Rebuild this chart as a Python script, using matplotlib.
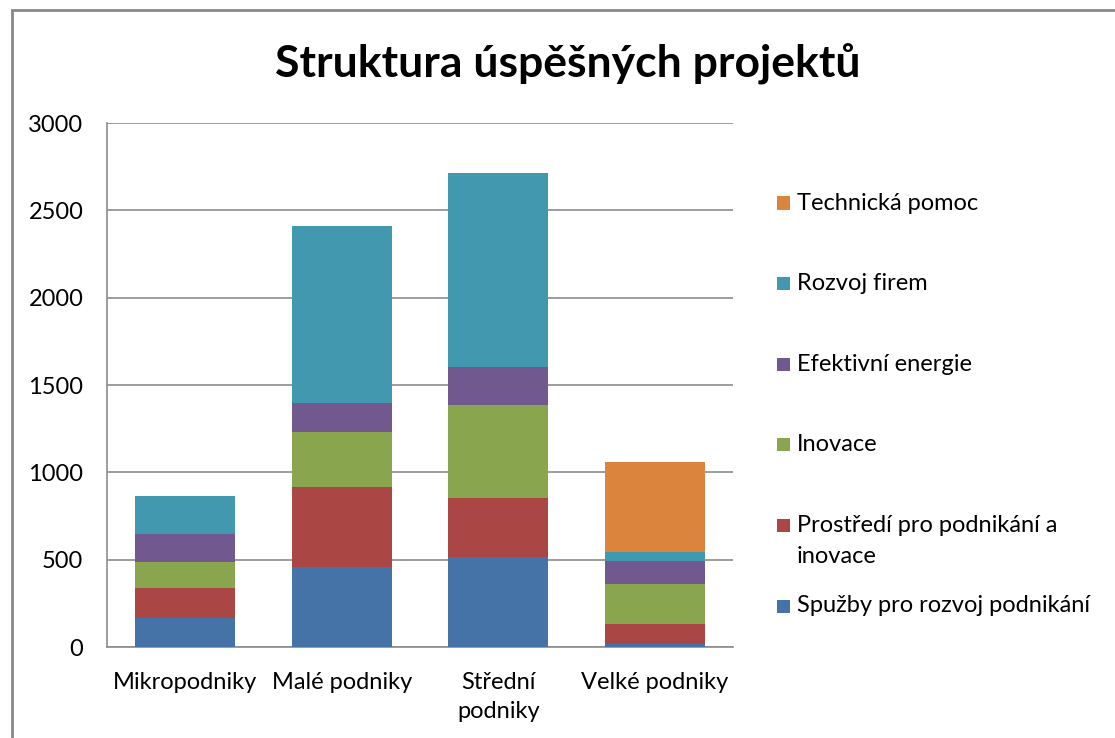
import matplotlib
matplotlib.use("Agg")
import matplotlib.pyplot as plt
from matplotlib.patches import Rectangle
import numpy as np

plt.rcParams['font.family'] = ['Lato', 'DejaVu Sans']

categories = ["Mikropodniky", "Malé podniky", "Střední\npodniky", "Velké podniky"]
series_names = ["Spužby pro rozvoj podnikání", "Prostředí pro podnikání a\ninovace",
                "Inovace", "Efektivní energie", "Rozvoj firem", "Technická pomoc"]
sluzby = [164, 458, 515, 15]
prostredi = [176, 456, 338, 118]
inovace = [147, 315, 530, 229]
energie = [162, 168, 220, 132]
rozvoj = [214, 1015, 1108, 50]
pomoc = [0, 0, 0, 517]
colors = ["#4572A7", "#AA4643", "#89A54E", "#71588F", "#4198AF", "#DB843D"]
yticks = [0, 500, 1000, 1500, 2000, 2500, 3000]

W, H = 1115, 738
FS = 17
fig = plt.figure(figsize=(W / 100, H / 100), dpi=100)
ax = fig.add_axes([107/W, 1-647/H, 626/W, 524/H])

x = np.arange(len(categories))
bottom = np.zeros(len(categories))
for vals, c in zip([sluzby, prostredi, inovace, energie, rozvoj, pomoc], colors):
    ax.bar(x, vals, bottom=bottom, width=0.64, color=c, edgecolor='none', zorder=3)
    bottom += np.array(vals)

ax.set_xlim(-0.5, len(categories) - 0.5)
ax.set_ylim(0, 3000)
ax.set_yticks(yticks)
ax.set_yticklabels([str(t) for t in yticks], fontsize=FS)
ax.set_xticks(x)
ax.set_xticklabels(categories, fontsize=FS, linespacing=1.45)
ax.tick_params(axis='x', length=0, pad=18)
ax.tick_params(axis='y', length=0, pad=17)
ax.grid(axis='y', color='#8c8c8c', linewidth=1.2, zorder=0)
for s in ['top', 'right']:
    ax.spines[s].set_visible(False)
for s in ['left', 'bottom']:
    ax.spines[s].set_color('#8c8c8c')
    ax.spines[s].set_linewidth(1.2)

# legend (reversed order, top = last series)
leg_top = 203
leg_step = 80.6
line_h = 31
for i, (name, c) in enumerate(zip(series_names[::-1], colors[::-1])):
    yc = leg_top + i * leg_step
    fig.add_artist(Rectangle((777/W, 1 - (yc + 6.5)/H), 13/W, 13/H,
                             transform=fig.transFigure, facecolor=c, edgecolor='none'))
    for k, line in enumerate(name.split("\n")):
        fig.text(797/W, 1 - (yc + k * line_h)/H, line, fontsize=FS,
                 ha='left', va='center', color='black')

fig.text(568/W, 1-63/H, "Struktura úspěšných projektů", fontsize=32,
         fontweight='bold', ha='center', va='center')

fig.add_artist(Rectangle((12/W, -0.1), 1.2, 1-10/H+0.1, transform=fig.transFigure,
                         fill=False, edgecolor='#888888', linewidth=2))

fig.savefig("out.png", dpi=100)
